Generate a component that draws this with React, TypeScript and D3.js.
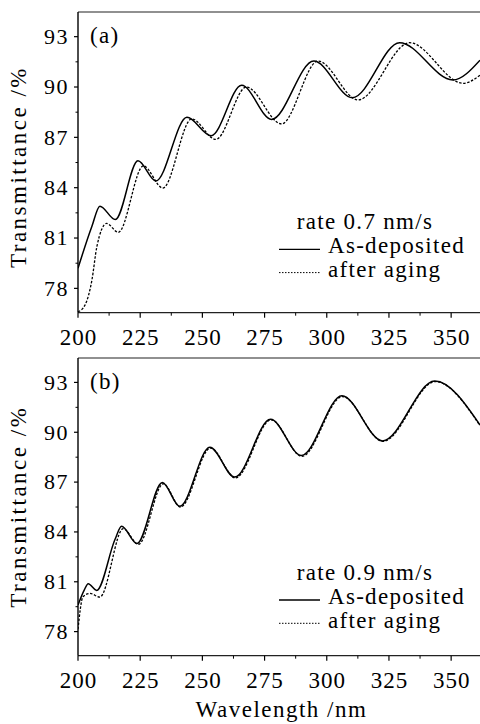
import React from "react";
import * as d3 from "d3";

// ---- data ----
const xTicks = [200, 225, 250, 275, 300, 325, 350];
const yTicks = [78, 81, 84, 87, 90, 93];

// Panel (a): rate 0.7 nm/s
const aDepW = [200, 205.6, 208.8, 215, 224.1, 231.3, 243.8, 253.5, 265.8, 277.8, 294.8, 310.3, 329.3, 350.7, 361.6];
const aDepT = [79.2, 81.7, 82.9, 82.1, 85.6, 84.4, 88.2, 87.1, 90.1, 88.07, 91.55, 89.36, 92.64, 90.42, 91.6];
const aAgeW = [200, 202.8, 205.6, 207.6, 211.5, 216.2, 226.3, 234.1, 245.7, 255.4, 267.7, 281.8, 296.5, 312.6, 333.3, 354.8, 361.6];
const aAgeT = [76.6, 77.0, 78.5, 80.5, 81.87, 81.34, 85.3, 83.98, 88.1, 86.88, 90.0, 87.8, 91.55, 89.23, 92.64, 90.22, 90.7];

// Panel (b): rate 0.9 nm/s
const bDepW = [200, 202.5, 204.1, 207.5, 214.9, 217.5, 223.7, 233.9, 240.9, 253, 263, 277.4, 289.8, 306.1, 322.4, 343.4, 361.6];
const bDepT = [79.6, 80.5, 80.88, 80.48, 83.56, 84.34, 83.3, 86.98, 85.54, 89.1, 87.3, 90.78, 88.6, 92.2, 89.48, 93.08, 90.44];
const bAgeW = [200, 202, 204.8, 208.8, 218.2, 224.3, 234.3, 241.2, 253.3, 263.3, 277.6, 290, 306.3, 322.6, 343.6, 361.6];
const bAgeT = [78.14, 80.1, 80.3, 80.08, 84.2, 83.25, 86.9, 85.5, 89.05, 87.25, 90.75, 88.55, 92.15, 89.45, 93.05, 90.4];

const legendTitles = ["rate 0.7 nm/s", "rate 0.9 nm/s"];
const panelLabels = ["(a)", "(b)"];
const seriesNames = ["As-deposited", "after aging"];
const xTitle = "Wavelength /nm";
const yTitle = "Transmittance /%";

const FONT = "'Liberation Serif', 'Times New Roman', serif";

type PanelProps = {
  id: string;
  top: number;
  bottom: number;
  dep: [number[], number[]];
  age: [number[], number[]];
  label: string;
  legend: string;
  legendY: number;
  titleY: number;
};

const LEFT = 78;
const RIGHT = 480;

function Panel({ id, top, bottom, dep, age, label, legend, legendY, titleY }: PanelProps) {
  const x = d3.scaleLinear().domain([200, 361.6]).range([LEFT, RIGHT]);
  const y = d3.scaleLinear().domain([76.55, 94.47]).range([bottom, top]);
  const line = d3
    .line<[number, number]>()
    .x((d) => x(d[0]))
    .y((d) => y(d[1]))
    .curve(d3.curveMonotoneX);
  const depPts = dep[0].map((w, i) => [w, dep[1][i]] as [number, number]);
  const agePts = age[0].map((w, i) => [w, age[1][i]] as [number, number]);
  const xMinor = d3.range(212.5, 362, 25);
  const yMinor = d3.range(79.5, 94, 3).concat([76.5]);
  return (
    <g>
      <defs>
        <clipPath id={id}>
          <rect x={LEFT} y={top} width={RIGHT - LEFT} height={bottom - top} />
        </clipPath>
      </defs>
      <g clipPath={`url(#${id})`} fill="none">
        <path d={line(depPts) || ""} stroke="#000" strokeWidth={1.5} />
        <path d={line(agePts) || ""} stroke="#000" strokeWidth={1.3} strokeDasharray="2.5,1.6" />
      </g>
      {/* frame */}
      <line x1={LEFT} x2={RIGHT} y1={top} y2={top} stroke="#222" strokeWidth={1.2} />
      <line x1={LEFT} x2={RIGHT} y1={bottom} y2={bottom} stroke="#222" strokeWidth={1.2} />
      <line x1={LEFT} x2={LEFT} y1={top} y2={bottom} stroke="#000" strokeWidth={1.4} />
      {/* y ticks */}
      {yTicks.map((t) => (
        <g key={"y" + t}>
          <line x1={LEFT - 4} x2={LEFT} y1={y(t)} y2={y(t)} stroke="#000" strokeWidth={1.2} />
          <text x={69} y={y(t) + 7.3} textAnchor="end" fontSize={22} letterSpacing={1.5} fontFamily={FONT}>
            {t}
          </text>
        </g>
      ))}
      {yMinor
        .filter((t) => y(t) >= top && y(t) <= bottom)
        .map((t) => (
          <line key={"ym" + t} x1={LEFT - 2.5} x2={LEFT} y1={y(t)} y2={y(t)} stroke="#000" strokeWidth={1} />
        ))}
      {/* x ticks */}
      {xTicks.map((t) => (
        <g key={"x" + t}>
          <line x1={x(t)} x2={x(t)} y1={bottom} y2={bottom + 5} stroke="#000" strokeWidth={1.2} />
          <text x={x(t) + 0.5} y={bottom + 32} textAnchor="middle" fontSize={23} letterSpacing={1} fontFamily={FONT}>
            {t}
          </text>
        </g>
      ))}
      {xMinor.map((t) => (
        <line key={"xm" + t} x1={x(t)} x2={x(t)} y1={bottom} y2={bottom + 3} stroke="#000" strokeWidth={1} />
      ))}
      {/* panel label */}
      <text x={90} y={top + 30.5} fontSize={23} letterSpacing={1.3} fontFamily={FONT}>
        {label}
      </text>
      {/* legend */}
      <text x={365} y={legendY} textAnchor="middle" fontSize={23} letterSpacing={1.3} fontFamily={FONT}>
        {legend}
      </text>
      <line x1={279} x2={320} y1={legendY + 20} y2={legendY + 20} stroke="#000" strokeWidth={1.3} />
      <text x={328} y={legendY + 24} fontSize={23} letterSpacing={1.3} fontFamily={FONT}>
        {seriesNames[0]}
      </text>
      <line x1={279} x2={320} y1={legendY + 43.3} y2={legendY + 43.3} stroke="#000" strokeWidth={1} strokeDasharray="1.5,1.5" />
      <text x={328} y={legendY + 47.5} fontSize={23} letterSpacing={1.3} fontFamily={FONT}>
        {seriesNames[1]}
      </text>
      {/* y title */}
      <text
        transform={`translate(26,${titleY}) rotate(-90)`}
        textAnchor="middle"
        fontSize={23}
        letterSpacing={2.5}
        fontFamily={FONT}
      >
        {yTitle}
      </text>
    </g>
  );
}

export default function App() {
  return (
    <svg
      width={480}
      height={724}
      viewBox="0 0 480 724"
      style={{ position: "absolute", left: 0, top: 0, background: "#fff" }}
    >
      <rect width={480} height={724} fill="#fff" />
      <Panel
        id="clipA"
        top={12}
        bottom={312.7}
        dep={[aDepW, aDepT]}
        age={[aAgeW, aAgeT]}
        label={panelLabels[0]}
        legend={legendTitles[0]}
        legendY={229.3}
        titleY={167}
      />
      <Panel
        id="clipB"
        top={358}
        bottom={655.7}
        dep={[bDepW, bDepT]}
        age={[bAgeW, bAgeT]}
        label={panelLabels[1]}
        legend={legendTitles[1]}
        legendY={580}
        titleY={506.7}
      />
      <text x={281.5} y={716.7} textAnchor="middle" fontSize={23} letterSpacing={1.5} fontFamily={FONT}>
        {xTitle}
      </text>
    </svg>
  );
}
